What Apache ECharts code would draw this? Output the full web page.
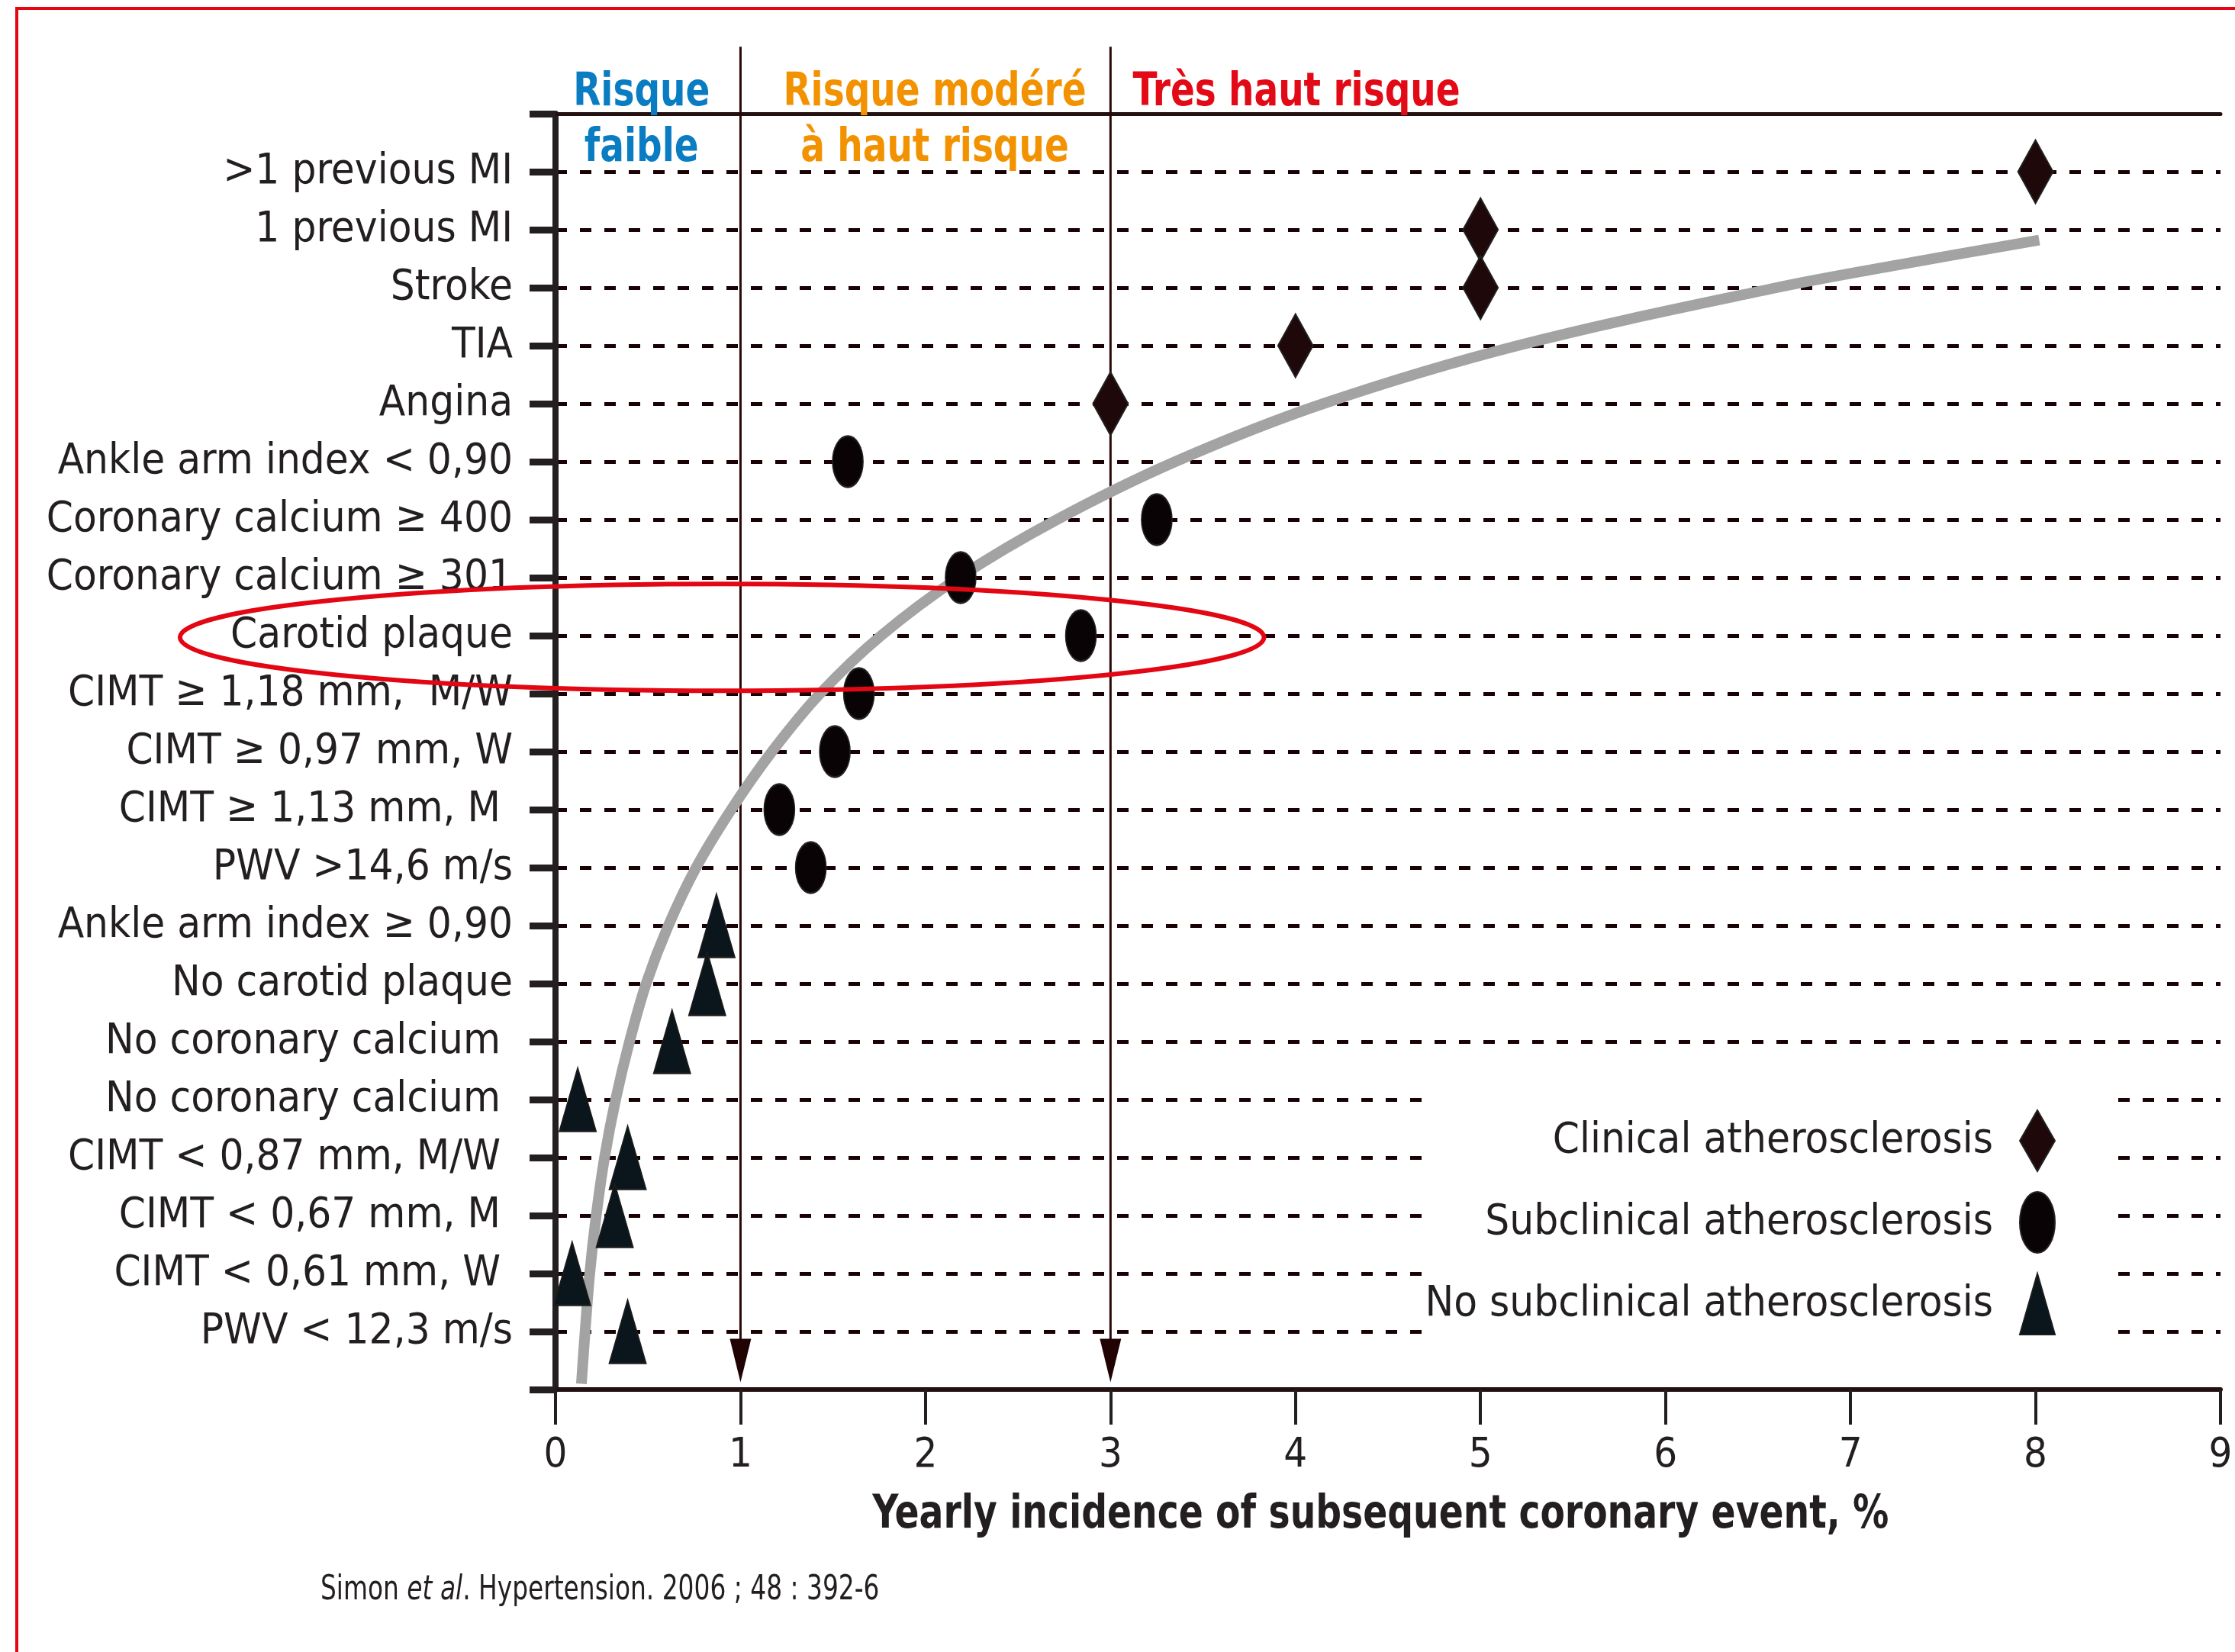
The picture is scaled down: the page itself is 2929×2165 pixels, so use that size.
<!DOCTYPE html>
<html><head><meta charset="utf-8">
<script src="https://cdn.jsdelivr.net/npm/echarts@6/dist/echarts.min.js"></script>
<style>html,body{margin:0;padding:0;background:#fff}#c{width:2929px;height:2165px}</style>
</head><body><div id="c"></div>
<script>
// ---------- DATA ----------
const rowLabels = [
  '>1 previous MI', '1 previous MI', 'Stroke', 'TIA', 'Angina',
  'Ankle arm index < 0,90', 'Coronary calcium \u2265 400', 'Coronary calcium \u2265 301',
  'Carotid plaque', 'CIMT \u2265 1,18 mm,  M/W', 'CIMT \u2265 0,97 mm, W', 'CIMT \u2265 1,13 mm, M ',
  'PWV >14,6 m/s', 'Ankle arm index \u2265 0,90', 'No carotid plaque', 'No coronary calcium ',
  'No coronary calcium ', 'CIMT < 0,87 mm, M/W ', 'CIMT < 0,67 mm, M ', 'CIMT < 0,61 mm, W ',
  'PWV < 12,3 m/s'
];
const xTicks = [0, 1, 2, 3, 4, 5, 6, 7, 8, 9];
const clinicalRows = [1, 2, 3, 4, 5];
const clinicalX = [8.0, 5.0, 5.0, 4.0, 3.0];
const subclinicalRows = [6, 7, 8, 9, 10, 11, 12, 13];
const subclinicalX = [1.58, 3.25, 2.19, 2.84, 1.64, 1.51, 1.21, 1.38];
const noSubRows = [14, 15, 16, 17, 18, 19, 20, 21];
const noSubX = [0.87, 0.82, 0.63, 0.12, 0.39, 0.32, 0.09, 0.39];
// trend curve
const trendX = [0.14, 0.16, 0.185, 0.22, 0.265, 0.325, 0.40, 0.49, 0.61, 0.76, 0.95, 1.17, 1.43, 1.76, 2.18, 2.71, 3.35, 4.15, 5.2, 6.6, 7.27, 8.02];
const trendY = [21.9, 21.0, 20.0, 19.0, 18.0, 17.0, 16.0, 15.0, 14.0, 13.0, 12.0, 11.0, 10.0, 9.0, 8.0, 7.0, 6.0, 5.0, 4.0, 3.0, 2.6, 2.18];
const riskThresholds = [1, 3];
const seriesNames = ['Clinical atherosclerosis', 'Subclinical atherosclerosis', 'No subclinical atherosclerosis'];
const xAxisTitle = 'Yearly incidence of subsequent coronary event, %';
const headerLow = ['Risque', 'faible'];
const headerMid = ['Risque mod\u00e9r\u00e9', '\u00e0 haut risque'];
const headerHigh = 'Tr\u00e8s haut risque';
const citation = ['Simon ', 'et al', '. Hypertension. 2006 ; 48 : 392-6'];

// ---------- CHART ----------
const FONT = '"Liberation Sans Narrow", "DejaVu Sans Condensed", "Open Sans", sans-serif';
const INK = '#231f20';
const ELLIPSE = 'path://M0,-1A1,1 0 1,1 0,1A1,1 0 1,1 0,-1Z';
const zip = (xs, ys) => xs.map((x, i) => [x, ys[i]]);

const chart = echarts.init(document.getElementById('c'));
const option = {
  animation: false,
  backgroundColor: '#fff',
  grid: { left: 728, right: 19, top: 149, bottom: 344 },
  xAxis: [{
    type: 'value', min: 0, max: 9, interval: 1, position: 'bottom',
    axisLine: { show: true, onZero: false, lineStyle: { color: '#231010', width: 6 } },
    axisTick: { show: true, length: 46, lineStyle: { color: INK, width: 4 } },
    axisLabel: { fontSize: 54, color: INK, margin: 60, fontFamily: FONT,
      formatter: v => xTicks.includes(v) ? String(v) : '' },
    splitLine: { show: false }
  }, {
    type: 'value', min: 0, max: 9, position: 'top',
    axisLine: { show: true, onZero: false, lineStyle: { color: '#231010', width: 5 } },
    axisTick: { show: false }, axisLabel: { show: false }, splitLine: { show: false }
  }],
  yAxis: {
    type: 'value', inverse: true, min: 0, max: 22, interval: 1,
    axisLine: { show: true, onZero: false, lineStyle: { color: INK, width: 8 } },
    axisTick: { show: true, length: 34, lineStyle: { color: INK, width: 9 } },
    axisLabel: { fontSize: 56, color: INK, margin: 56, fontFamily: FONT,
      formatter: v => rowLabels[v - 1] || '' },
    splitLine: { show: true, lineStyle: { color: '#1a0204', width: 5, type: [15, 17] } }
  },
  legend: {
    data: [
      { name: seriesNames[0], icon: 'diamond' },
      { name: seriesNames[1], icon: ELLIPSE },
      { name: seriesNames[2], icon: 'triangle' }
    ],
    orient: 'vertical', align: 'right', right: 155, top: 1414,
    itemWidth: 46, itemHeight: 80, itemGap: 25, symbolKeepAspect: false,
    backgroundColor: '#fff', padding: [40, 80, 12, 0], selectedMode: false,
    textStyle: { fontSize: 56, color: INK, fontFamily: FONT, padding: [0, 30, 0, 0] }
  },
  series: [
    { type: 'line', name: 'trend', data: zip(trendX, trendY), smooth: 0.35, symbol: 'none',
      lineStyle: { color: '#a3a3a3', width: 14, cap: 'butt' }, z: 3, silent: true },
    { type: 'line', name: 'seuil1', data: [[riskThresholds[0], -1.155], [riskThresholds[0], 21.2]], symbol: 'none', clip: false,
      lineStyle: { color: '#2b0707', width: 3 }, z: 2, silent: true },
    { type: 'line', name: 'seuil3', data: [[riskThresholds[1], -1.155], [riskThresholds[1], 21.2]], symbol: 'none', clip: false,
      lineStyle: { color: '#2b0707', width: 3 }, z: 2, silent: true },
    { type: 'scatter', name: 'arrows', data: riskThresholds.map(t => [t, 21.5]), symbol: 'triangle', symbolRotate: 180,
      symbolSize: [28, 57], clip: false, itemStyle: { color: '#210303', opacity: 1 }, z: 2, silent: true },
    { type: 'scatter', name: seriesNames[0], data: zip(clinicalX, clinicalRows), symbol: 'diamond',
      symbolSize: [46, 83], itemStyle: { color: '#1e080a', borderColor: '#222', borderWidth: 2, opacity: 1 }, z: 5 },
    { type: 'scatter', name: seriesNames[1], data: zip(subclinicalX, subclinicalRows), symbol: ELLIPSE, symbolKeepAspect: false,
      symbolSize: [40, 67], itemStyle: { color: '#0a0305', borderColor: '#222', borderWidth: 2, opacity: 1 }, z: 5 },
    { type: 'scatter', name: seriesNames[2], data: zip(noSubX, noSubRows), symbol: 'triangle',
      symbolSize: [48, 83], itemStyle: { color: '#0a161b', borderColor: '#1c1c1c', borderWidth: 2, opacity: 1 }, z: 5 }
  ]
};
chart.setOption(option);

const px = (x, y) => chart.convertToPixel({ seriesIndex: 4 }, [x, y]);
const headFont = (c) => ({ fontSize: 60, fontWeight: 'bold', fontFamily: FONT, fill: c });
const pL1 = px(0.465, -0.35), pL2 = px(0.465, 0.61);
const pM1 = px(2.05, -0.35), pM2 = px(2.05, 0.61);
const pH = px(3.12, -0.35);
const pT = px(4.46, 24.17);
const eC = px(0.9, 9.03), eR = px(3.83, 9.95);
const headText = (p, text, color, align) => ({
  type: 'text', x: p[0], y: p[1], scaleX: 0.87, z: 50,
  style: Object.assign({ text: text, align: align, verticalAlign: 'middle' }, headFont(color))
});
chart.setOption({
  graphic: [
    { type: 'polyline', shape: { points: [[22, 2165], [22, 11], [2929, 11]] }, style: { stroke: '#e30613', lineWidth: 4, fill: null }, z: 50 },
    headText(pL1, headerLow[0], '#0a7dc2', 'center'),
    headText(pL2, headerLow[1], '#0a7dc2', 'center'),
    headText(pM1, headerMid[0], '#f39200', 'center'),
    headText(pM2, headerMid[1], '#f39200', 'center'),
    headText(pH, headerHigh, '#e20a16', 'left'),
    { type: 'text', x: pT[0], y: pT[1], scaleX: 0.875, z: 50,
      style: { text: xAxisTitle, align: 'center', verticalAlign: 'middle', fontSize: 60, fontWeight: 'bold', fontFamily: FONT, fill: INK } },
    { type: 'ellipse', shape: { cx: eC[0], cy: eC[1], rx: eR[0] - eC[0], ry: eR[1] - eC[1] },
      style: { fill: null, stroke: '#e30613', lineWidth: 6 }, z: 60 },
    { type: 'text', x: 420, y: 2085, scaleX: 0.83,
      style: { text: '{n|' + citation[0] + '}{i|' + citation[1] + '}{n|' + citation[2] + '}', verticalAlign: 'middle', align: 'left',
        rich: { n: { fontSize: 44, fontFamily: FONT, fill: INK }, i: { fontSize: 44, fontFamily: FONT, fontStyle: 'italic', fill: INK } } }, z: 50 }
  ]
});
</script></body></html>
